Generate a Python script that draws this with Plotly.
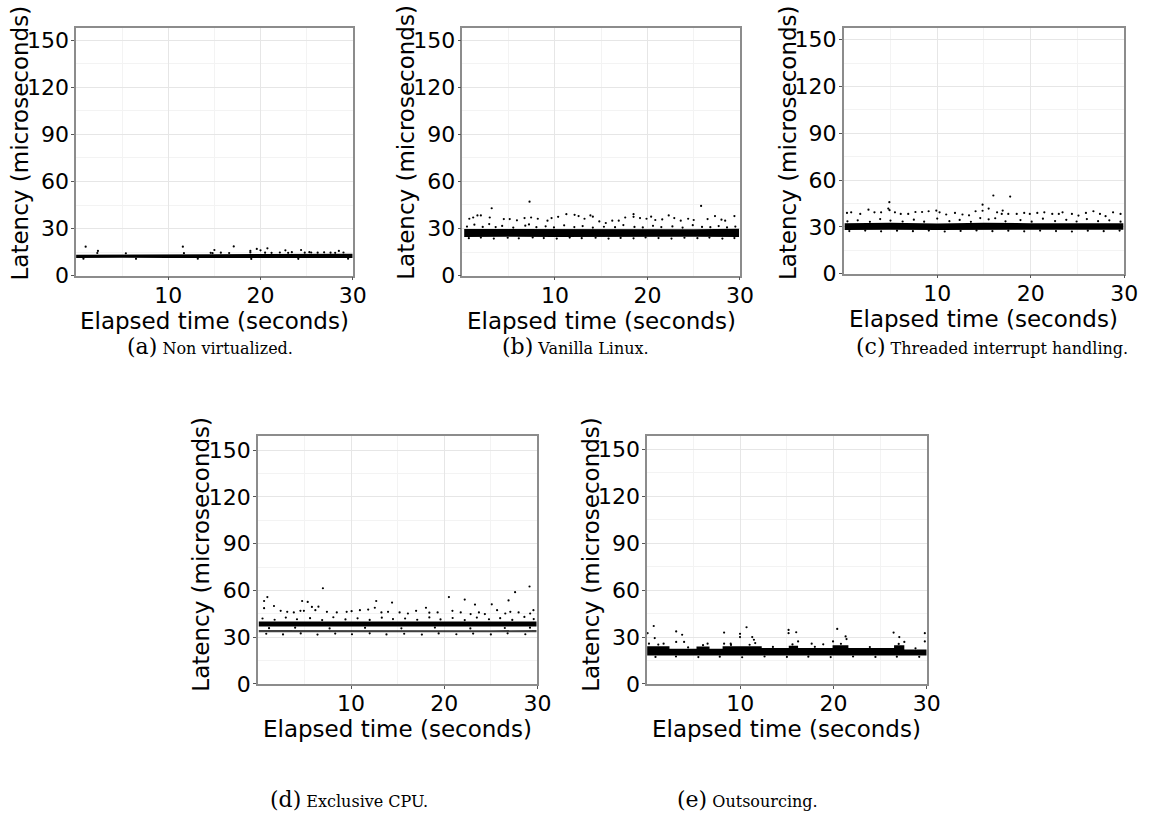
import plotly.graph_objects as go

W, H = 1161, 821

# ---------------- data ----------------
X_TICKS = [10, 20, 30]
Y_TICKS = [0, 30, 60, 90, 120, 150]
X_MINOR = [5, 15, 25]
Y_MINOR = [15, 45, 75, 105, 135]

CAPTION_LABELS = ["(a)", "(b)", "(c)", "(d)", "(e)"]
CAPTION_TEXTS = ["Non virtualized.", "Vanilla Linux.", "Threaded interrupt handling.",
                 "Exclusive CPU.", "Outsourcing."]

# (a) Non virtualized: dense band + sparse points
A_BAND_X = [0.0, 5, 10, 15, 20, 25, 30.0]
A_BAND_LO = [11.2, 11.3, 11.2, 11.2, 11.1, 11.1, 11.2]
A_BAND_HI = [13.3, 13.3, 13.4, 13.6, 13.8, 13.9, 13.9]
A_POINTS = [(1.04, 18.4), (2.37, 15.7), (11.58, 18.4), (15.0, 16.3), (17.1, 18.6), (18.9, 15.7),
            (19.6, 17.0), (20.0, 16.1), (20.75, 17.4), (22.7, 16.1), (24.4, 16.3), (25.3, 14.9),
            (28.5, 15.7),
            (2.3, 14.4), (5.4, 14.2), (11.7, 14.3), (14.6, 14.5), (14.8, 14.3), (15.7, 14.6),
            (16.6, 14.4), (18.9, 14.7), (20.5, 14.6), (21.2, 14.5), (22.1, 14.7), (23.0, 14.5),
            (23.4, 14.9), (24.8, 14.6), (25.5, 14.7), (26.2, 14.6), (26.9, 14.8), (27.6, 14.6),
            (28.1, 14.5), (29.0, 14.7), (0.8, 10.8), (6.5, 10.7), (13.2, 10.8), (19.0, 10.6),
            (24.1, 10.7), (29.5, 10.8)]

# (b) Vanilla Linux
B_BAND_X = [0.2, 5, 10, 15, 20, 25, 29.9]
B_BAND_LO = [24.6, 24.8, 24.6, 24.8, 24.6, 24.7, 24.5]
B_BAND_HI = [29.7, 29.6, 29.8, 29.6, 29.7, 29.5, 29.8]
B_POINTS = [(7.26, 47.1), (3.17, 42.9), (25.8, 44.4), (0.75, 36.2), (1.17, 37.0), (1.63, 38.3),
            (2.0, 38.3), (2.96, 37.0), (4.48, 36.0), (5.12, 36.0), (5.9, 35.2), (6.72, 36.6),
            (7.43, 37.0), (8.15, 36.2), (9.2, 35.0), (9.64, 36.6), (10.35, 37.4), (11.24, 39.1),
            (12.13, 38.7), (12.56, 37.9), (13.2, 36.2), (13.84, 38.3), (14.1, 37.5), (14.8, 34.5),
            (15.5, 33.5), (16.2, 35.0), (16.9, 35.0), (17.6, 37.0), (18.5, 39.1), (18.5, 37.4),
            (19.2, 36.6), (19.9, 36.2), (20.4, 37.5), (20.85, 35.4), (21.6, 35.8), (22.3, 38.3),
            (22.9, 36.6), (23.6, 35.0), (24.4, 36.2), (25.0, 35.4), (26.5, 36.0), (27.3, 37.9),
            (28.0, 35.6), (28.4, 35.0), (29.4, 37.9),
            (0.5, 31.2), (1.3, 32.4), (2.2, 31.0), (2.9, 32.8), (3.6, 30.9), (4.3, 31.6),
            (5.5, 30.6), (6.8, 31.8), (7.2, 32.6), (8.0, 30.8), (9.0, 31.4), (9.9, 30.7),
            (11.0, 32.0), (12.1, 30.9), (13.0, 31.5), (14.1, 30.6), (15.3, 31.1), (16.5, 30.8),
            (17.4, 32.2), (18.6, 31.0), (19.5, 30.7), (20.6, 31.7), (21.5, 30.9), (22.7, 31.3),
            (23.8, 30.6), (24.9, 32.1), (25.9, 31.0), (26.8, 30.8), (27.7, 31.5), (28.6, 30.7),
            (29.5, 31.2),
            (0.7, 23.8), (2.0, 24.2), (3.4, 23.6), (4.9, 24.1), (6.1, 23.7), (7.6, 24.3),
            (8.8, 23.9), (10.2, 23.6), (11.6, 24.2), (12.9, 23.8), (14.4, 24.1), (15.8, 23.6),
            (17.1, 24.0), (18.5, 23.7), (19.8, 24.3), (21.2, 23.9), (22.6, 23.6), (24.0, 24.1),
            (25.4, 23.8), (26.7, 24.2), (28.1, 23.6), (29.4, 23.9)]

# (c) Threaded interrupt handling
C_BAND_X = [0.1, 5, 10, 15, 20, 25, 29.9]
C_BAND_LO = [28.0, 28.1, 28.0, 28.1, 28.0, 28.0, 28.1]
C_BAND_HI = [32.3, 32.6, 32.2, 32.6, 32.3, 32.2, 32.3]
C_POINTS = [(16.0, 50.1), (17.8, 49.4), (4.88, 45.8), (14.85, 44.2), (4.77, 41.7), (4.9, 40.7),
            (15.5, 41.7), (14.85, 40.3), (17.0, 40.4), (0.35, 38.9), (0.8, 39.3), (1.77, 38.3),
            (2.65, 41.0), (3.29, 39.3), (4.0, 39.3), (5.48, 39.3), (6.1, 38.3), (6.9, 38.3),
            (7.67, 39.5), (8.38, 39.5), (9.08, 40.0), (9.9, 40.4), (10.25, 39.3), (10.96, 37.9),
            (11.9, 38.9), (12.7, 37.9), (13.4, 37.4), (14.1, 40.0), (16.4, 39.3), (16.9, 38.3),
            (17.6, 38.3), (18.5, 38.3), (19.3, 38.9), (19.9, 38.3), (20.7, 38.9), (21.45, 39.3),
            (22.3, 38.3), (23.0, 38.3), (23.4, 39.3), (24.4, 38.3), (25.1, 37.2), (25.9, 38.9),
            (26.7, 40.0), (27.4, 38.3), (28.0, 36.8), (28.8, 39.3), (29.6, 38.3),
            (0.4, 33.5), (1.5, 34.2), (2.8, 33.2), (3.9, 35.0), (5.0, 34.0), (6.3, 33.4),
            (7.5, 34.6), (8.6, 33.3), (10.0, 35.3), (11.3, 33.6), (12.4, 34.4), (13.6, 33.2),
            (14.6, 35.6), (15.5, 34.8), (16.2, 35.5), (17.3, 33.5), (18.9, 34.3), (20.1, 33.3),
            (21.3, 35.2), (22.6, 33.7), (23.8, 34.5), (24.9, 33.4), (26.0, 35.0), (27.2, 33.6),
            (28.4, 34.2), (29.6, 33.3),
            (0.6, 27.3), (2.3, 27.6), (4.0, 27.1), (5.7, 27.5), (7.4, 27.2), (9.1, 27.6),
            (10.8, 27.0), (12.5, 27.4), (14.2, 27.7), (15.9, 27.2), (17.6, 27.5), (19.3, 27.1),
            (21.0, 27.6), (22.7, 27.3), (24.4, 27.0), (26.1, 27.5), (27.8, 27.2), (29.5, 27.6)]

# (d) Exclusive CPU: main band + lower thinner band
D_BAND_X = [0.1, 5, 10, 15, 20, 25, 29.9]
D_MAIN_LO = [36.8, 36.9, 36.8, 36.8, 36.9, 36.8, 36.8]
D_MAIN_HI = [40.0, 40.2, 40.0, 40.1, 40.0, 40.2, 40.1]
D_LOW_LO = [33.1, 33.2, 33.1, 33.2, 33.1, 33.2, 33.1]
D_LOW_HI = [34.6, 34.5, 34.6, 34.5, 34.6, 34.5, 34.6]
D_POINTS = [(6.98, 61.4), (29.15, 62.5), (27.6, 58.9), (1.02, 55.7), (0.67, 53.2), (4.75, 53.2),
            (5.35, 52.6), (12.7, 53.2), (14.4, 52.2), (20.5, 55.7), (22.2, 54.1), (26.9, 53.6),
            (23.3, 50.9), (25.1, 51.1), (1.73, 50.0), (5.8, 49.4), (6.5, 49.6), (0.67, 48.6),
            (2.45, 46.9), (3.15, 46.3), (3.86, 45.9), (4.57, 46.9), (4.94, 46.9), (6.17, 47.3),
            (7.41, 46.3), (8.47, 45.9), (9.53, 46.3), (10.06, 46.7), (10.95, 47.3), (11.84, 47.7),
            (12.55, 48.9), (13.26, 45.9), (13.97, 46.3), (15.21, 45.9), (16.1, 45.2), (16.98, 46.9),
            (18.04, 48.9), (18.4, 45.7), (19.29, 45.9), (20.88, 46.9), (21.77, 45.9), (22.83, 44.8),
            (23.72, 45.9), (24.36, 44.8), (25.67, 47.3), (26.55, 45.2), (27.09, 46.3), (27.98, 45.9),
            (29.22, 45.2), (29.57, 47.3),
            (0.5, 42.0), (1.8, 41.2), (3.0, 42.6), (4.2, 41.5), (5.6, 42.2), (6.9, 41.0),
            (8.1, 42.8), (9.4, 41.4), (10.7, 42.1), (12.0, 41.1), (13.3, 42.5), (14.5, 41.6),
            (15.8, 42.0), (17.1, 41.2), (18.4, 42.7), (19.6, 41.4), (20.9, 42.3), (22.2, 41.0),
            (23.5, 42.6), (24.8, 41.5), (26.0, 42.2), (27.3, 41.1), (28.6, 43.0), (29.6, 41.6),
            (1.2, 35.8), (4.0, 36.1), (7.7, 35.6), (11.5, 36.0), (15.4, 35.7), (19.0, 36.2),
            (22.8, 35.6), (26.5, 35.9), (29.2, 36.1),
            (0.9, 32.2), (2.7, 31.8), (4.6, 32.4), (6.4, 31.7), (8.3, 32.3), (10.1, 31.9),
            (12.0, 32.5), (13.8, 31.8), (15.7, 32.2), (17.6, 31.7), (19.4, 32.4), (21.3, 31.9),
            (23.1, 32.3), (25.0, 31.8), (26.8, 32.5), (28.7, 31.9)]

# (e) Outsourcing: stepped band
E_HI_X = [0.0, 2.4, 2.4, 5.3, 5.3, 6.7, 6.7, 8.1, 8.1, 12.3, 12.3, 15.2, 15.2, 16.2,
          16.2, 19.9, 19.9, 21.6, 21.6, 26.5, 26.5, 27.6, 27.6, 30.0]
E_HI = [24.2, 24.2, 22.6, 22.6, 24.0, 24.0, 22.6, 22.6, 24.2, 24.2, 23.0, 23.0, 24.4, 24.4,
        23.0, 23.0, 24.8, 24.8, 23.0, 23.0, 24.8, 24.8, 22.0, 22.0]
E_LO_X = [0.0, 10.0, 20.0, 30.0]
E_LO = [18.2, 18.0, 18.2, 18.3]
E_POINTS = [(0.71, 37.1), (10.67, 36.3), (20.4, 35.2), (0.05, 32.5), (3.12, 33.6), (3.76, 31.5),
            (0.82, 29.4), (8.26, 32.9), (9.97, 32.1), (9.97, 30.0), (11.28, 30.0), (11.46, 28.3),
            (11.6, 26.2), (15.18, 34.6), (15.18, 32.5), (16.0, 33.1), (16.2, 27.2), (21.3, 30.4),
            (21.4, 28.7), (26.45, 32.9), (27.06, 30.0), (27.6, 26.9), (29.8, 32.5), (29.8, 27.2),
            (3.12, 26.9), (3.97, 26.9), (1.77, 25.8), (6.49, 25.8), (8.26, 25.8), (8.97, 25.8),
            (17.66, 25.8), (18.9, 25.4), (19.95, 27.2), (0.2, 25.8),
            (0.9, 17.3), (3.1, 17.6), (5.5, 17.2), (7.8, 17.5), (10.2, 17.1), (12.6, 17.6),
            (15.0, 17.3), (17.3, 17.5), (19.7, 17.2), (22.1, 17.6), (24.5, 17.3), (26.8, 17.5),
            (29.2, 17.4), (1.2, 25.2), (4.4, 23.4), (6.0, 24.8), (9.0, 25.0), (11.0, 25.1),
            (13.5, 23.7), (15.6, 25.3), (18.0, 23.8), (20.8, 25.7), (23.9, 23.6), (27.0, 25.6),
            (28.8, 22.8)]

# ---------------- layout (pixel boxes of each panel) ----------------
BOXES = [(77, 357, 28, 280), (468, 749, 28, 280), (854, 1138, 28, 278),
         (261, 544, 443, 695), (655, 938, 443, 695)]
Y_MAX = [158.2, 158.0, 157.8, 159.0, 158.6]
YTITLE_CY = [145, 145, 145, 563, 563]
CAPTION_POS = [(127, 352), (506, 352), (864, 352), (271, 812), (683, 812)]

fig = go.Figure()

def band(i, xs_hi, ys_hi, xs_lo, ys_lo, color="black"):
    fig.add_trace(go.Scatter(
        x=list(xs_hi) + list(xs_lo)[::-1], y=list(ys_hi) + list(ys_lo)[::-1],
        mode="lines", fill="toself", fillcolor=color, line=dict(width=0),
        hoverinfo="skip", showlegend=False,
        xaxis="x" if i == 1 else f"x{i}", yaxis="y" if i == 1 else f"y{i}"))

def points(i, pts):
    fig.add_trace(go.Scatter(
        x=[p[0] for p in pts], y=[p[1] for p in pts], mode="markers",
        marker=dict(size=2.2, color="black", line=dict(width=0)), showlegend=False,
        xaxis="x" if i == 1 else f"x{i}", yaxis="y" if i == 1 else f"y{i}"))

band(1, A_BAND_X, A_BAND_HI, A_BAND_X, A_BAND_LO)
points(1, A_POINTS)
band(2, B_BAND_X, B_BAND_HI, B_BAND_X, B_BAND_LO)
points(2, B_POINTS)
band(3, C_BAND_X, C_BAND_HI, C_BAND_X, C_BAND_LO)
points(3, C_POINTS)
band(4, D_BAND_X, D_MAIN_HI, D_BAND_X, D_MAIN_LO)
band(4, D_BAND_X, D_LOW_HI, D_BAND_X, D_LOW_LO, color="rgba(0,0,0,0.75)")
points(4, D_POINTS)
band(5, E_HI_X, E_HI, E_LO_X, E_LO)
points(5, E_POINTS)

SANS = "DejaVu Sans"
SERIF = "DejaVu Serif"
FS = 23
TFS = 22
layout = dict(width=W, height=H, margin=dict(l=0, r=0, t=0, b=0),
              paper_bgcolor="white", plot_bgcolor="white", showlegend=False)
annotations = []
for k, (x0, x1, y0, y1) in enumerate(BOXES):
    i = k + 1
    sfx = "" if i == 1 else str(i)
    common = dict(showline=True, mirror=True, linecolor="#8c8c8c", linewidth=1.5,
                  ticks="outside", ticklen=3, tickcolor="#555", tickwidth=1,
                  tickfont=dict(family=SANS, size=TFS, color="black"),
                  showgrid=True, gridcolor="#e6e6e6", gridwidth=1, zeroline=False,
                  fixedrange=True)
    layout["xaxis" + sfx] = dict(common, domain=[x0 / W, x1 / W], range=[0, 30],
                                 anchor="y" + sfx, tickmode="array", tickvals=X_TICKS,
                                 ticklabelstandoff=-4,
                                 minor=dict(tickvals=X_MINOR, showgrid=True,
                                            gridcolor="#f3f3f3", ticks=""))
    layout["yaxis" + sfx] = dict(common, domain=[1 - y1 / H, 1 - y0 / H],
                                 range=[0, Y_MAX[k]], anchor="x" + sfx,
                                 tickmode="array", tickvals=Y_TICKS,
                                 ticklabelstandoff=-2,
                                 minor=dict(tickvals=Y_MINOR, showgrid=True,
                                            gridcolor="#f3f3f3", ticks=""))
    # axis titles
    annotations.append(dict(text="Elapsed time (seconds)", xref="paper", yref="paper",
                            x=(x0 + x1) / 2 / W, y=1 - (y1 + 46) / H,
                            xanchor="center", yanchor="middle", showarrow=False,
                            font=dict(family=SANS, size=FS, color="black")))
    annotations.append(dict(text="Latency (microseconds)", xref="paper", yref="paper",
                            x=(x0 - 57) / W, y=1 - YTITLE_CY[k] / H, textangle=-90,
                            xanchor="center", yanchor="middle", showarrow=False,
                            font=dict(family=SANS, size=FS, color="black")))
    cx, cy = CAPTION_POS[k]
    annotations.append(dict(
        text=f"<span style='font-size:22px'>{CAPTION_LABELS[k]}</span> {CAPTION_TEXTS[k]}",
        xref="paper", yref="paper", x=cx / W, y=1 - cy / H,
        xanchor="left", yanchor="middle", showarrow=False,
        font=dict(family=SERIF, size=16, color="black")))

layout["annotations"] = annotations
fig.update_layout(**layout)

fig.write_html("out.html", config={"displayModeBar": False},
               post_script="document.body.style.margin='0';")
